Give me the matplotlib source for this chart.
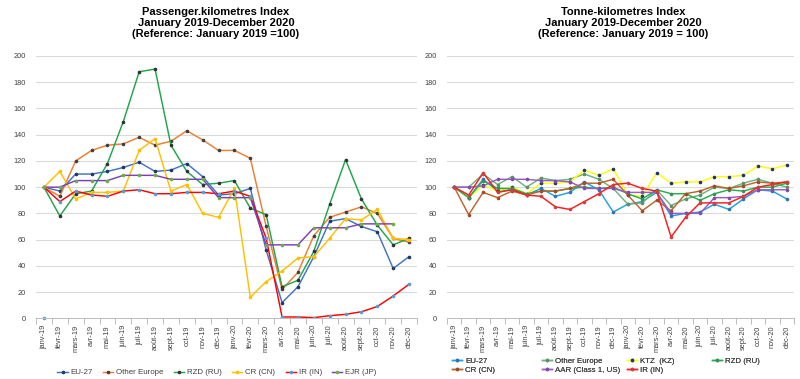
import numpy as np
import matplotlib
matplotlib.use("Agg")
import matplotlib.pyplot as plt

plt.rcParams['font.family'] = ['Liberation Sans', 'DejaVu Sans']

months = ["janv-19", "févr-19", "mars-19", "avr-19", "mai-19", "juin-19", "juil-19",
          "août-19", "sept-19", "oct-19", "nov-19", "déc-19",
          "janv-20", "févr-20", "mars-20", "avr-20", "mai-20", "juin-20", "juil-20",
          "août-20", "sept-20", "oct-20", "nov-20", "déc-20"]

# ---- Passenger-km index ----
pkm_eu27 = [100, 97, 110, 110, 112, 115, 119, 112, 113, 118, 108, 94, 95, 99, 52, 12, 24, 47, 74, 76, 70, 66, 38, 47]
pkm_other_europe = [100, 93, 120, 128, 132, 133, 138, 132, 135, 143, 136, 128, 128, 122, 70, 22, 35, 63, 77, 81, 85, 80, 61, 58]
pkm_rzd = [100, 78, 95, 97, 118, 150, 188, 190, 132, 112, 102, 103, 105, 84, 79, 24, 29, 51, 87, 121, 91, 71, 56, 61]
pkm_cr = [100, 112, 91, 96, 96, 97, 128, 137, 97, 102, 80, 77, 99, 16, 28, 36, 46, 47, 61, 76, 75, 83, 61, 60]
pkm_ir = [100, 89, 97, 94, 93, 97, 98, 95, 95, 96, 96, 95, 97, 93, 61, 1, 1, 0.5, 2, 3, 5, 9, 17, 26]
pkm_ejr = [100, 100, 105, 105, 105, 109, 109, 109, 106, 106, 106, 92, 92, 92, 56, 56, 56, 69, 69, 69, 72, 72, 72, np.nan]
pkm_stray = [0]

# ---- Tonne-km index ----
tkm_eu27 = [100, 92, 106, 97, 98, 94, 99, 93, 96, 104, 98, 81, 87, 89, 96, 78, 80, 81, 87, 83, 91, 98, 97, 91]
tkm_other_europe = [100, 100, 110, 102, 108, 100, 107, 105, 106, 110, 106, 99, 87, 88, 98, 86, 91, 94, 100, 99, 103, 106, 103, 100]
tkm_ktz = [100, 92, 102, 97, 100, 95, 103, 103, 104, 113, 109, 114, 94, 93, 111, 103, 104, 104, 108, 108, 109, 116, 114, 117]
tkm_rzd = [100, 92, 105, 99, 99, 95, 97, 97, 99, 100, 99, 100, 95, 91, 98, 95, 95, 90, 95, 98, 97, 100, 100, 103]
tkm_cr = [100, 79, 96, 92, 97, 94, 97, 97, 99, 103, 103, 106, 94, 82, 90, 82, 95, 97, 101, 99, 101, 104, 103, 104]
tkm_aar = [100, 100, 101, 106, 106, 106, 105, 105, 104, 99, 99, 99, 96, 96, 96, 80, 80, 80, 92, 92, 93, 98, 98, 98]
tkm_ir = [100, 94, 111, 96, 98, 94, 93, 85, 83, 89, 95, 102, 103, 99, 97, 62, 77, 88, 88, 88, 93, 100, 102, 104]

x = np.arange(len(months))

W, H = 800, 379
fig = plt.figure(figsize=(W / 100, H / 100), dpi=100)

def fx(px):
    return px / W

def fy(py):
    return 1 - py / H

ax1 = fig.add_axes([fx(36), fy(318.3), fx(417 - 36), (318.3 - 56) / H])
ax2 = fig.add_axes([fx(447), fy(318.3), fx(794 - 447), (318.3 - 56) / H])

def style(ax):
    ax.set_xlim(-0.5, len(months) - 0.5)
    ax.set_ylim(0, 200)
    ax.set_yticks(np.arange(0, 201, 20))
    ax.grid(axis='y', color='#D9D9D9', lw=0.75)
    ax.set_axisbelow(True)
    for s in ['top', 'right', 'left']:
        ax.spines[s].set_visible(False)
    ax.spines['bottom'].set_color('#BFBFBF')
    ax.spines['bottom'].set_linewidth(0.75)
    ax.set_xticks(x)
    ax.set_xticklabels(months, rotation=90, fontsize=5.3, color='#404040')
    ax.set_xticks(np.arange(-0.5, len(months), 1.0), minor=True)
    ax.tick_params(axis='x', which='major', length=0, pad=5)
    ax.tick_params(axis='x', which='minor', length=4, color='#BFBFBF', width=0.75)
    ax.tick_params(axis='y', length=0, labelsize=5.3, labelcolor='#404040', pad=7)

style(ax1)
style(ax2)

lw = 1.05
ms = 1.6

left_series = [
    ("EU-27", pkm_eu27, '#4472C4', '#1F3864'),
    ("Other Europe", pkm_other_europe, '#ED7D31', '#404040'),
    ("RZD (RU)", pkm_rzd, '#1FA64A', '#333333'),
    ("CR (CN)", pkm_cr, '#FFC000', '#FFC000'),
    ("IR (IN)", pkm_ir, '#FF0000', '#5B9BD5'),
    ("EJR (JP)", pkm_ejr, '#7B3FB8', '#70AD47'),
]
h_left = []
for name, vals, c, mc in left_series:
    ln, = ax1.plot(x, vals, color=c, lw=lw, marker='o', ms=ms, mfc=mc, mec=mc, label=name)
    h_left.append(ln)
ax1.plot(x[:len(pkm_stray)], pkm_stray, ls='none', marker='o', ms=ms, mfc='#5B9BD5', mec='#5B9BD5', clip_on=False)

right_series = [
    ("EU-27", tkm_eu27, '#22A0DC', '#2E75B6'),
    ("Other Europe", tkm_other_europe, '#6DB37D', '#5E8F6A'),
    ("KTZ  (KZ)", tkm_ktz, '#FFFF00', '#1F3864'),
    ("RZD (RU)", tkm_rzd, '#1FB04F', '#3A8F5A'),
    ("CR (CN)", tkm_cr, '#C0622F', '#9C4F25'),
    ("AAR (Class 1, US)", tkm_aar, '#9A5CC6', '#7F4FA8'),
    ("IR (IN)", tkm_ir, '#FF1A1A', '#D04040'),
]
h_right = {}
for name, vals, c, mc in right_series:
    ln, = ax2.plot(x, vals, color=c, lw=lw, marker='o', ms=ms, mfc=mc, mec=mc, label=name)
    h_right[name] = ln

# Titles
fig.text(fx(216), fy(23.2), "Passenger.kilometres Index\nJanuary 2019-December 2020\n(Reference: January 2019 =100)",
         ha='center', va='center', fontsize=8.0, fontweight='bold', linespacing=1.15, color='#000000')
fig.text(fx(623), fy(23.2), "Tonne-kilometres Index\nJanuary 2019-December 2020\n(Reference: January 2019 = 100)",
         ha='center', va='center', fontsize=8.0, fontweight='bold', linespacing=1.15, color='#000000')

# Left legend
fig.legend(handles=h_left, loc='center', bbox_to_anchor=(fx(217), fy(372.5)), ncol=6,
           frameon=False, fontsize=5.7, handlelength=1.3, handletextpad=0.35,
           columnspacing=1.3, borderpad=0, borderaxespad=0, labelcolor='#404040')

# Right legend: four columns placed explicitly
cols = [(452, ["EU-27", "CR (CN)"]), (542, ["Other Europe", "AAR (Class 1, US)"]),
        (627, ["KTZ  (KZ)", "IR (IN)"]), (712, ["RZD (RU)"])]
for xp, names in cols:
    lg = fig.legend(handles=[h_right[n] for n in names], loc='upper left',
                    bbox_to_anchor=(fx(xp), fy(357.5)), ncol=1, frameon=False,
                    fontsize=5.7, handlelength=1.3, handletextpad=0.35,
                    labelspacing=0.2, borderpad=0, borderaxespad=0, labelcolor='#404040')
    fig.add_artist(lg)

fig.savefig("out.png", dpi=100)
